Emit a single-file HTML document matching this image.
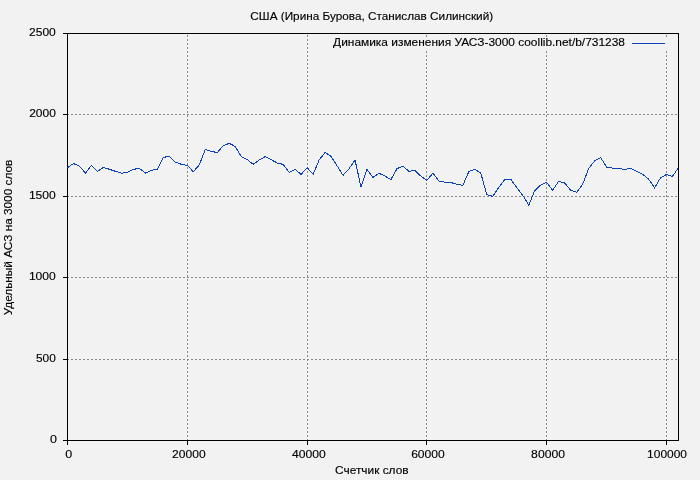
<!DOCTYPE html>
<html><head><meta charset="utf-8">
<style>
html,body{margin:0;padding:0;background:#f2f2f2;overflow:hidden;}
svg{display:block;will-change:transform;}
text{font-family:"Liberation Sans",sans-serif;font-size:11.3px;fill:#000;stroke:#000;stroke-width:0.14px;}
</style></head><body>
<svg width="700" height="480" viewBox="0 0 700 480">
<rect x="0" y="0" width="700" height="480" fill="#f2f2f2"/>
<g stroke="#8a8a8a" stroke-width="1" stroke-dasharray="2,2" fill="none">
<line x1="67" y1="359.5" x2="678.5" y2="359.5"/>
<line x1="67" y1="277.5" x2="678.5" y2="277.5"/>
<line x1="67" y1="196.5" x2="678.5" y2="196.5"/>
<line x1="67" y1="114.5" x2="678.5" y2="114.5"/>
<line x1="187.5" y1="441" x2="187.5" y2="33.5"/>
<line x1="307.5" y1="441" x2="307.5" y2="33.5"/>
<line x1="426.5" y1="441" x2="426.5" y2="33.5"/>
<line x1="546.5" y1="441" x2="546.5" y2="33.5"/>
<line x1="666.5" y1="441" x2="666.5" y2="33.5"/>
</g>
<g stroke="#000" stroke-width="1" fill="none">
<line x1="63" y1="440.5" x2="67.5" y2="440.5"/>
<line x1="63" y1="359.5" x2="67.5" y2="359.5"/>
<line x1="63" y1="277.5" x2="67.5" y2="277.5"/>
<line x1="63" y1="196.5" x2="67.5" y2="196.5"/>
<line x1="63" y1="114.5" x2="67.5" y2="114.5"/>
<line x1="63" y1="33.5" x2="67.5" y2="33.5"/>
<line x1="67.5" y1="440.5" x2="67.5" y2="445"/>
<line x1="187.5" y1="440.5" x2="187.5" y2="445"/>
<line x1="307.5" y1="440.5" x2="307.5" y2="445"/>
<line x1="426.5" y1="440.5" x2="426.5" y2="445"/>
<line x1="546.5" y1="440.5" x2="546.5" y2="445"/>
<line x1="666.5" y1="440.5" x2="666.5" y2="445"/>
<rect x="67.5" y="33.5" width="611.0" height="407.0"/>
</g>
<rect x="330" y="37" width="342" height="13" fill="#f2f2f2"/>
<text x="49.95" y="442.90" textLength="6.96" lengthAdjust="spacingAndGlyphs">0</text>
<text x="35.98" y="361.90" textLength="19.80" lengthAdjust="spacingAndGlyphs">500</text>
<text x="28.90" y="279.90" textLength="26.92" lengthAdjust="spacingAndGlyphs">1000</text>
<text x="28.90" y="198.90" textLength="26.92" lengthAdjust="spacingAndGlyphs">1500</text>
<text x="29.17" y="116.90" textLength="26.64" lengthAdjust="spacingAndGlyphs">2000</text>
<text x="29.07" y="35.90" textLength="26.75" lengthAdjust="spacingAndGlyphs">2500</text>
<text x="65.15" y="458.00" textLength="6.96" lengthAdjust="spacingAndGlyphs">0</text>
<text x="172.12" y="458.00" textLength="33.48" lengthAdjust="spacingAndGlyphs">20000</text>
<text x="292.03" y="458.00" textLength="33.82" lengthAdjust="spacingAndGlyphs">40000</text>
<text x="411.17" y="458.00" textLength="33.59" lengthAdjust="spacingAndGlyphs">60000</text>
<text x="531.11" y="458.00" textLength="33.89" lengthAdjust="spacingAndGlyphs">80000</text>
<text x="647.11" y="458.00" textLength="39.87" lengthAdjust="spacingAndGlyphs">100000</text>
<text x="250.38" y="20.00" textLength="242.75" lengthAdjust="spacingAndGlyphs">США (Ирина Бурова, Станислав Силинский)</text>
<text x="333.10" y="46.00" textLength="291.84" lengthAdjust="spacingAndGlyphs">Динамика изменения УАСЗ-3000 coollib.net/b/731238</text>
<text x="335.07" y="474.00" textLength="73.49" lengthAdjust="spacingAndGlyphs">Счетчик слов</text>
<g transform="translate(12,0) rotate(-90)"><text x="-315.32" y="0.00" textLength="155.60" lengthAdjust="spacingAndGlyphs">Удельный АСЗ на 3000 слов</text></g>
<line x1="632" y1="43.5" x2="665" y2="43.5" stroke="#0c42b2" stroke-width="1.2"/>
<polyline points="67.50,167.60 73.49,163.50 79.48,166.30 85.47,173.10 91.46,165.40 97.45,171.30 103.44,167.40 109.43,169.30 115.42,171.30 121.41,173.20 127.40,172.40 133.39,169.40 139.38,168.30 145.37,173.10 151.36,170.30 157.35,169.30 163.34,157.40 169.33,156.30 175.32,162.10 181.31,164.30 187.30,165.40 193.29,171.70 199.28,165.00 205.27,149.40 211.26,151.30 217.25,152.60 223.25,145.70 229.24,143.30 235.23,146.50 241.22,156.60 247.21,159.60 253.20,164.30 259.19,160.00 265.18,156.60 271.17,159.60 277.16,163.00 283.15,164.40 289.14,172.40 295.13,169.30 301.12,174.40 307.11,167.60 313.10,174.40 319.09,160.10 325.08,152.40 331.07,156.30 337.06,165.80 343.05,175.30 349.04,168.70 355.03,160.00 361.02,187.20 367.01,169.50 373.00,177.40 378.99,173.30 384.98,176.10 390.97,179.50 396.96,168.70 402.95,166.10 408.94,171.30 414.93,170.40 420.92,176.20 426.91,180.30 432.90,173.20 438.89,181.10 444.88,182.20 450.87,182.50 456.86,184.40 462.85,185.30 468.84,171.60 474.83,169.30 480.82,173.30 486.81,194.50 492.80,196.40 498.79,187.50 504.78,179.40 510.77,179.30 516.76,187.60 522.75,195.30 528.75,205.10 534.74,190.60 540.73,185.00 546.72,182.40 552.71,190.30 558.70,181.30 564.69,183.00 570.68,190.30 576.67,192.20 582.66,184.30 588.65,168.50 594.64,161.00 600.63,157.50 606.62,167.10 612.61,168.20 618.60,168.30 624.59,169.50 630.58,168.30 636.57,171.40 642.56,174.20 648.55,179.00 654.54,187.90 660.53,177.80 666.52,174.40 672.51,176.40 678.50,167.60" fill="none" stroke="#0c42b2" stroke-width="1" stroke-linejoin="miter" shape-rendering="crispEdges"/>
</svg>
</body></html>
